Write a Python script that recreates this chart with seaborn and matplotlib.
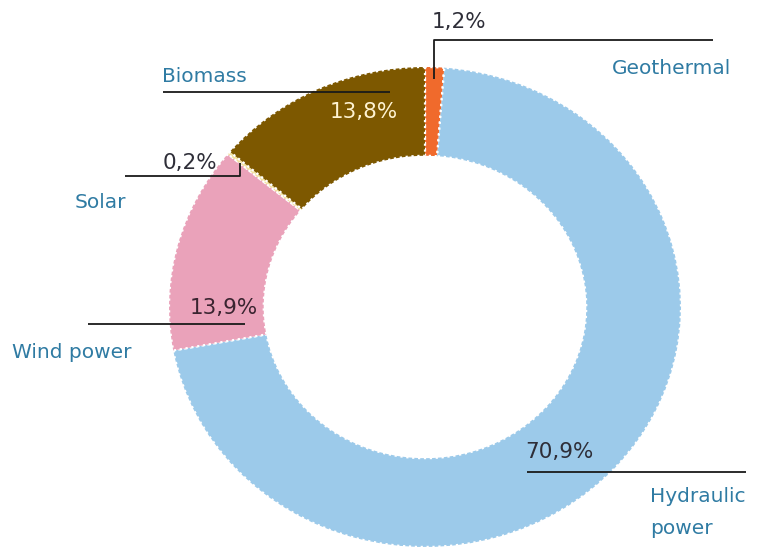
import numpy as np
import matplotlib
matplotlib.use("Agg")
import matplotlib.pyplot as plt
import seaborn as sns

# Electricity production by source (percent of total)
sources = ["Geothermal", "Hydraulic power", "Wind power", "Solar", "Biomass"]
shares = [1.2, 70.9, 13.9, 0.2, 13.8]
share_labels = ["1,2%", "70,9%", "13,9%", "0,2%", "13,8%"]
slice_colors = ["#f06a2c", "#9ccaea", "#eaa2ba", "#f2e2a0", "#7d5800"]

sns.set_theme(style="white")
plt.rcParams["font.family"] = ["DejaVu Sans"]

W, H = 757, 548
fig = plt.figure(figsize=(W / 100, H / 100), dpi=100)
ax = fig.add_axes([0, 0, 1, 1])

# ring centre and radii in figure pixels (slightly wider than tall)
CX, CY, RX, RY = 425, 307, 256, 240


def P(x, y):
    """figure pixel position -> data coordinates"""
    return (x - CX) / RX, (CY - y) / RY


wedges, _ = ax.pie(
    shares,
    colors=slice_colors,
    startangle=90,
    counterclock=False,
    radius=1.0,
    wedgeprops=dict(width=0.37, edgecolor="white", linewidth=1.6, linestyle=":"),
)
ax.set_aspect("auto")
ax.set_xlim((0 - CX) / RX, (W - CX) / RX)
ax.set_ylim(-(H - CY) / RY, CY / RY)
ax.axis("off")

name_color = "#2f7ba3"
pct_color = "#2e2e38"
line_kw = dict(color="#1a1a1a", lw=1.3, solid_capstyle="butt")
fs_name = 14.5
fs_pct = 15.5


def mid_point(i, r):
    w = wedges[i]
    a = np.deg2rad((w.theta1 + w.theta2) / 2)
    return r * np.cos(a), r * np.sin(a)


def poly(points):
    xs, ys = zip(*points)
    ax.plot(xs, ys, **line_kw)


def name(x, y, s, **kw):
    ax.text(*P(x, y), s, color=name_color, fontsize=fs_name, ha="left", va="center", **kw)


def pct(x, y, s, color=pct_color, ha="left"):
    ax.text(*P(x, y), s, color=color, fontsize=fs_pct, ha=ha, va="center")


# Geothermal
gx, gy = mid_point(0, 0.95)
y40 = P(0, 40)[1]
poly([(gx, gy), (gx, y40), (P(713, 0)[0], y40)])
pct(432, 22, share_labels[0])
name(612, 68, sources[0])

# Biomass
poly([P(163, 92), P(390, 92)])
name(162, 77, sources[4])
pct(398, 112, share_labels[4], color="#fff3d2", ha="right")

# Solar
poly([P(125, 176), P(240, 176), P(240, 163)])
pct(163, 163, share_labels[3])
name(75, 203, sources[3])

# Wind power
poly([P(88, 324), P(245, 324)])
pct(258, 308, share_labels[2], color="#3a2430", ha="right")
name(12, 352, sources[2])

# Hydraulic power
poly([P(527, 472), P(746, 472)])
pct(525, 452, share_labels[1])
name(650, 497, "Hydraulic")
name(650, 529, "power")

fig.savefig("out.png", dpi=100, facecolor="white")
